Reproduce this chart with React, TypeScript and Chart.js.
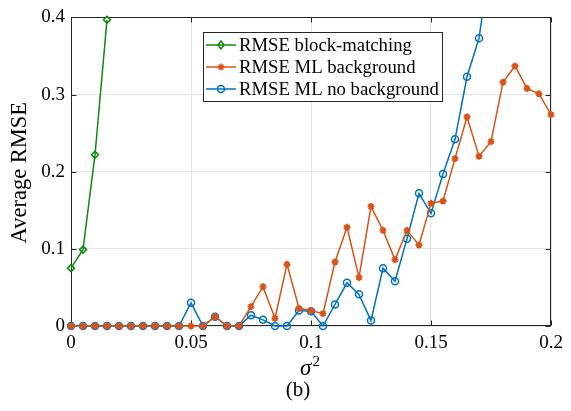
import React, { useEffect, useRef } from 'react';
import { Chart, registerables } from 'chart.js';

Chart.register(...registerables);

const sigma2 = [
  0, 0.005, 0.01, 0.015, 0.02, 0.025, 0.03, 0.035, 0.04, 0.045,
  0.05, 0.055, 0.06, 0.065, 0.07, 0.075, 0.08, 0.085, 0.09, 0.095,
  0.1, 0.105, 0.11, 0.115, 0.12, 0.125, 0.13, 0.135, 0.14, 0.145,
  0.15, 0.155, 0.16, 0.165, 0.17, 0.175, 0.18, 0.185, 0.19, 0.195, 0.2,
];

const blockMatching = [0.075, 0.099, 0.222, 0.397];

const mlBackground = [
  0, 0, 0, 0, 0, 0, 0, 0, 0, 0,
  0, 0, 0.012, 0, 0, 0.025, 0.051, 0.01, 0.08, 0.023,
  0.02, 0.016, 0.083, 0.128, 0.063, 0.155, 0.124, 0.086, 0.124, 0.105,
  0.159, 0.162, 0.217, 0.271, 0.22, 0.239, 0.316, 0.337, 0.308, 0.301, 0.274,
];

const mlNoBackground = [
  0, 0, 0, 0, 0, 0, 0, 0, 0, 0,
  0.03, 0, 0.012, 0, 0, 0.014, 0.008, 0, 0, 0.02,
  0.019, 0, 0.028, 0.056, 0.041, 0.007, 0.075, 0.058, 0.113, 0.172,
  0.146, 0.197, 0.242, 0.323, 0.373, 0.48,
];

const xTickValues = [0, 0.05, 0.1, 0.15, 0.2];
const xTickLabels = ['0', '0.05', '0.1', '0.15', '0.2'];
const yTickValues = [0, 0.1, 0.2, 0.3, 0.4];
const yTickLabels = ['0', '0.1', '0.2', '0.3', '0.4'];

const seriesNames = ['RMSE block-matching', 'RMSE ML background', 'RMSE ML no background'];
const seriesColors = ['#0f860f', '#D95319', '#0072BD'];
const xTitle = 'σ';
const xTitleSup = '2';
const yTitle = 'Average RMSE';
const caption = '(b)';

const FONT = '"Liberation Serif", "Times New Roman", serif';
const AXIS = '#262626';

function toPoints(values: number[]) {
  return values.map((v, i) => ({ x: sigma2[i], y: v }));
}

function drawMarker(ctx: CanvasRenderingContext2D, kind: number, x: number, y: number) {
  ctx.save();
  ctx.strokeStyle = seriesColors[kind];
  ctx.fillStyle = seriesColors[kind];
  ctx.lineWidth = 1.5;
  if (kind === 0) {
    const r = 4;
    ctx.beginPath();
    ctx.moveTo(x, y - r);
    ctx.lineTo(x + r * 0.75, y);
    ctx.lineTo(x, y + r);
    ctx.lineTo(x - r * 0.75, y);
    ctx.closePath();
    ctx.stroke();
  } else if (kind === 1) {
    const r = 3.5;
    ctx.beginPath();
    for (let k = 0; k < 4; k++) {
      const ang = (k * Math.PI) / 4;
      ctx.moveTo(x + r * Math.cos(ang), y + r * Math.sin(ang));
      ctx.lineTo(x - r * Math.cos(ang), y - r * Math.sin(ang));
    }
    ctx.stroke();
    ctx.beginPath();
    ctx.arc(x, y, 2, 0, Math.PI * 2);
    ctx.fill();
  } else {
    ctx.beginPath();
    ctx.arc(x, y, 3.5, 0, Math.PI * 2);
    ctx.stroke();
  }
  ctx.restore();
}

const decor = {
  id: 'decor',
  beforeDatasetsDraw(chart: any) {
    const { ctx, chartArea: a, scales } = chart;
    const xs = scales.x;
    const ys = scales.y;
    ctx.save();
    ctx.strokeStyle = AXIS;
    ctx.lineWidth = 1;
    const L = Math.round(a.left) + 0.5;
    const R = Math.round(a.right) - 0.5;
    const T = Math.round(a.top) + 0.5;
    const B = Math.round(a.bottom) - 0.5;
    ctx.strokeRect(L, T, R - L, B - T);
    const tl = 5;
    ctx.beginPath();
    xTickValues.forEach((v) => {
      const px = Math.round(xs.getPixelForValue(v)) + 0.5;
      ctx.moveTo(px, B);
      ctx.lineTo(px, B - tl);
      ctx.moveTo(px, T);
      ctx.lineTo(px, T + tl);
    });
    yTickValues.forEach((v) => {
      const py = Math.round(ys.getPixelForValue(v)) + 0.5;
      ctx.moveTo(L, py);
      ctx.lineTo(L + tl, py);
      ctx.moveTo(R, py);
      ctx.lineTo(R - tl, py);
    });
    ctx.stroke();
    ctx.restore();
  },
  afterDraw(chart: any) {
    const { ctx, chartArea: a } = chart;
    ctx.save();
    // legend
    const bx = 203.5, by = 32.5, bw = 239, bh = 69;
    ctx.fillStyle = '#ffffff';
    ctx.fillRect(bx, by, bw, bh);
    ctx.strokeStyle = AXIS;
    ctx.lineWidth = 1;
    ctx.strokeRect(bx, by, bw, bh);
    const rows = [45, 67, 89];
    ctx.font = `18.7px ${FONT}`;
    ctx.textBaseline = 'middle';
    ctx.textAlign = 'left';
    seriesNames.forEach((name, i) => {
      const yy = rows[i];
      ctx.strokeStyle = seriesColors[i];
      ctx.lineWidth = 1.5;
      ctx.beginPath();
      ctx.moveTo(206, yy);
      ctx.lineTo(236, yy);
      ctx.stroke();
      drawMarker(ctx, i, 221, yy);
      ctx.fillStyle = '#000000';
      ctx.fillText(name, 239, yy + 1);
    });

    // y title
    ctx.save();
    ctx.translate(20, (a.top + a.bottom) / 2 + 1);
    ctx.rotate(-Math.PI / 2);
    ctx.font = `22.5px ${FONT}`;
    ctx.textAlign = 'center';
    ctx.textBaseline = 'middle';
    ctx.fillStyle = '#000000';
    ctx.fillText(yTitle, 0, 0);
    ctx.restore();

    // x title
    const cx = (a.left + a.right) / 2;
    ctx.fillStyle = '#000000';
    ctx.textBaseline = 'alphabetic';
    ctx.textAlign = 'left';
    ctx.font = `italic 23px ${FONT}`;
    const w1 = ctx.measureText(xTitle).width;
    ctx.font = `15px ${FONT}`;
    const w2 = ctx.measureText(xTitleSup).width;
    const sx = cx - (w1 + w2 + 1) / 2 - 1;
    ctx.font = `italic 23px ${FONT}`;
    ctx.fillText(xTitle, sx, 375);
    ctx.font = `15px ${FONT}`;
    ctx.fillText(xTitleSup, sx + w1 + 1, 366);

    // caption
    ctx.font = `21px ${FONT}`;
    ctx.textAlign = 'center';
    ctx.fillText(caption, 298, 396);
    ctx.restore();
  },
};

export default function App() {
  const ref = useRef<HTMLCanvasElement | null>(null);

  useEffect(() => {
    if (!ref.current) return;
    const chart = new Chart(ref.current, {
      type: 'line',
      data: {
        datasets: [
          {
            label: seriesNames[0],
            data: toPoints(blockMatching),
            borderColor: seriesColors[0],
            backgroundColor: 'rgba(0,0,0,0)',
            borderWidth: 1.5,
            pointStyle: 'rectRot',
            pointRadius: 3.5,
            pointBorderWidth: 1.5,
            pointBorderColor: seriesColors[0],
            pointBackgroundColor: 'rgba(0,0,0,0)',
            tension: 0,
            clip: { left: 10, right: 10, top: 5, bottom: 10 },
          },
          {
            label: seriesNames[1],
            data: toPoints(mlBackground),
            borderColor: seriesColors[1],
            backgroundColor: seriesColors[1],
            borderWidth: 1.5,
            pointStyle: 'star',
            pointRadius: 3.5,
            pointBorderWidth: 1.8,
            pointBorderColor: seriesColors[1],
            pointBackgroundColor: seriesColors[1],
            tension: 0,
            clip: { left: 10, right: 10, top: 0, bottom: 10 },
          },
          {
            label: seriesNames[2],
            data: toPoints(mlNoBackground),
            borderColor: seriesColors[2],
            backgroundColor: 'rgba(0,0,0,0)',
            borderWidth: 1.5,
            pointStyle: 'circle',
            pointRadius: 3.5,
            pointBorderWidth: 1.5,
            pointBorderColor: seriesColors[2],
            pointBackgroundColor: 'rgba(0,0,0,0)',
            tension: 0,
            clip: { left: 10, right: 10, top: 0, bottom: 10 },
          },
        ],
      },
      options: {
        animation: false,
        responsive: false,
        events: [],
        layout: { padding: { top: 15, right: 20, left: 0, bottom: 0 } },
        plugins: {
          legend: { display: false },
          tooltip: { enabled: false },
          title: { display: false },
        },
        scales: {
          x: {
            type: 'linear',
            min: 0,
            max: 0.2,
            afterBuildTicks: (s: any) => {
              s.ticks = xTickValues.map((v) => ({ value: v }));
            },
            afterFit: (s: any) => {
              s.height = 85;
            },
            ticks: {
              callback: (_v: any, i: number) => xTickLabels[i],
              font: { family: FONT, size: 19 },
              color: '#000000',
              padding: 6,
              maxRotation: 0,
              autoSkip: false,
            },
            grid: { color: '#e4e4e4', lineWidth: 1, drawTicks: false },
            border: { display: false },
          },
          y: {
            type: 'linear',
            min: 0,
            max: 0.4,
            afterBuildTicks: (s: any) => {
              s.ticks = yTickValues.map((v) => ({ value: v }));
            },
            afterFit: (s: any) => {
              s.width = 71;
            },
            ticks: {
              callback: (_v: any, i: number) => yTickLabels[i],
              font: { family: FONT, size: 19 },
              color: '#000000',
              padding: 6,
              autoSkip: false,
            },
            grid: { color: '#e4e4e4', lineWidth: 1, drawTicks: false },
            border: { display: false },
          },
        },
      },
      plugins: [decor],
    } as any);
    return () => chart.destroy();
  }, []);

  return (
    <div style={{ position: 'fixed', left: 0, top: 0, width: 571, height: 411, background: '#ffffff' }}>
      <canvas ref={ref} width={571} height={411} style={{ display: 'block', width: 571, height: 411 }} />
    </div>
  );
}
